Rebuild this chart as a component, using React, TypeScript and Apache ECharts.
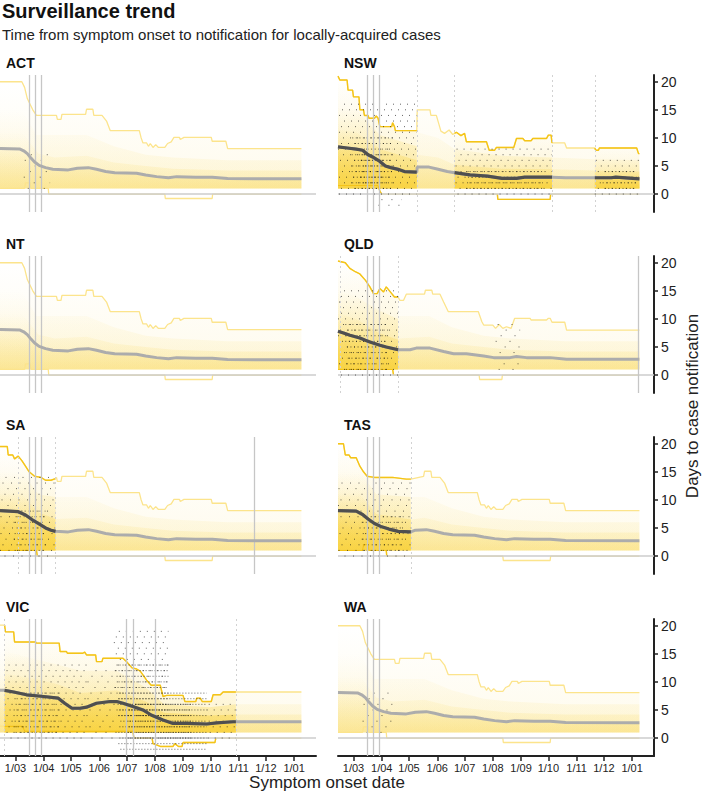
import React, { useEffect, useRef } from "react";
import * as echarts from "echarts";

type Pt = [number, number];
type Block = [number, number, number, number, number];

const FONT = '"Liberation Sans", Arial, Helvetica, sans-serif';
const X_MAX = 347; // days since 13 Feb 2020
const Y_MIN = -3.2;
const Y_MAX = 21.2;
const MONTH_DAYS = [17, 48, 78, 109, 139, 170, 201, 231, 262, 292, 323];
const MONTH_LABELS = ["1/03", "1/04", "1/05", "1/06", "1/07", "1/08", "1/09", "1/10", "1/11", "1/12", "1/01"];
const Y_TICKS = [0, 5, 10, 15, 20];
const INTERVENTIONS = [32, 39, 45];
const BAND_FLOOR = 1;

// ---- national baseline (ACT, NT, WA look alike) ----
const baseUpper: Pt[] = [[0, 20], [24, 20], [27, 19], [30, 17], [33, 16], [36, 15], [40, 14], [62, 14], [63, 13.3], [67, 13.3], [68, 14.2], [94, 14.2], [95, 15.1], [102, 15.1], [103, 14], [112, 14], [117, 13], [121, 11.3], [153, 11.3], [155, 10], [157, 9.1], [161, 9.1], [163, 8.5], [165, 9], [168, 8.3], [171, 8.8], [174, 8.3], [181, 8.3], [184, 9], [188, 9.3], [191, 10.1], [197, 10.1], [198, 9.7], [202, 10.1], [232, 10.1], [233, 9.4], [248, 9.4], [250, 8.1], [331, 8.1]];
const baseMedian: Pt[] = [[0, 8.1], [22, 8.0], [26, 7.7], [30, 7.2], [34, 6.4], [38, 5.7], [43, 5.1], [50, 4.7], [58, 4.4], [75, 4.3], [85, 4.6], [97, 4.7], [106, 4.4], [116, 4.0], [126, 3.8], [150, 3.7], [160, 3.4], [172, 3.1], [185, 2.9], [194, 3.1], [215, 3.0], [233, 3.0], [250, 2.75], [331, 2.7]];
const baseLower: Pt[] = [[0, 1], [27, 1], [28, 2], [33, 2], [34, 1], [53, 1], [53.5, 0], [181, 0], [181.5, -0.8], [233, -0.8], [233.5, 0], [331, 0]];
const baseQ75: Pt[] = [[0, 11], [24, 11], [42, 7.2], [60, 6.5], [95, 6.8], [125, 5.6], [160, 5], [190, 4.5], [250, 4.2], [331, 4.2]];
const baseQ90: Pt[] = [[0, 15], [24, 15], [40, 10.5], [95, 10.5], [125, 8.5], [160, 7], [190, 6.5], [250, 6], [331, 6]];

// ---- NSW ----
const nswUpper: Pt[] = [[0, 21], [2, 20.3], [10, 20.3], [11, 18.5], [16, 18.5], [17, 17.3], [23, 17.3], [24, 15], [28, 15], [29, 14], [33, 14], [34, 13.5], [40, 13.5], [42, 13.9], [44, 13.5], [46, 12], [59, 12], [60, 12.7], [62, 12], [63, 11.3], [86.5, 11.3], [87, 15], [101, 15], [102, 14], [108, 14], [113, 11.2], [117, 10.8], [122, 11.4], [126, 10.6], [128, 10.8], [130, 11], [135, 10.4], [139, 10.8], [141, 9.3], [163, 9.3], [166, 7.8], [172, 7.8], [174, 8.3], [193, 8.3], [196, 9.9], [203, 9.9], [205, 9.5], [212, 9.5], [214, 9.9], [229, 9.9], [231, 10.5], [234, 10.5], [235, 9.1], [249, 9.1], [251, 8.2], [282, 8.2], [283, 7.8], [286, 7.8], [287, 8.2], [328, 8.2], [330, 7.2], [331, 7.2]];
const nswMedian: Pt[] = [[0, 8.4], [10, 8.2], [20, 8.0], [27, 7.8], [33, 7.0], [38, 6.6], [46, 5.8], [52, 5.0], [58, 4.7], [66, 4.4], [73, 4.0], [86.5, 3.9], [87, 4.8], [100, 4.8], [110, 4.4], [120, 4.0], [128, 3.8], [145, 3.4], [164, 3.2], [180, 2.8], [196, 2.8], [205, 3.0], [235, 3.0], [250, 2.9], [282, 2.9], [300, 2.9], [305, 3.0], [331, 2.7]];
const nswLower: Pt[] = [[0, 1.5], [44, 1.5], [46, 0.5], [48, 0], [175, 0], [175.5, -0.95], [233, -0.95], [233.5, 0], [331, 0]];
const nswQ75: Pt[] = [[0, 11.5], [20, 11], [46, 8], [86.5, 6], [87, 7], [110, 6.5], [128, 5.2], [180, 4.5], [235, 4.4], [282, 4.2], [331, 4.0]];
const nswQ90: Pt[] = [[0, 15.5], [20, 15], [46, 10.5], [86.5, 8.5], [87, 11], [110, 10], [128, 8], [180, 6.8], [235, 6.5], [282, 6.2], [331, 6]];
const nswDots: Block[] = [[0, 86, 0, 16, 0.15], [15, 60, 1, 10, 0.35], [25, 50, 2, 7, 0.5], [40, 70, -2, -1, 0.1], [128, 235, 0, 8, 0.15], [140, 225, 1, 4, 0.35], [282, 331, 0, 6, 0.15], [290, 328, 1, 4, 0.35]];

// ---- QLD ----
const qldUpper: Pt[] = [[0, 20.3], [8, 20], [13, 19], [19, 18.4], [24, 18], [30, 16.9], [35, 15.7], [39, 14.5], [43, 14.5], [46, 15.4], [50, 14.8], [53, 15.7], [59, 14.5], [62, 13.9], [66, 13.9], [68, 13.3], [72, 13.3], [75, 14.4], [95, 14.4], [96, 15.1], [103, 15.1], [104, 14.4], [112, 14.4], [116, 13], [121, 11.3], [154, 11.3], [158, 9.5], [160, 8.9], [170, 8.9], [173, 8.3], [177, 9], [181, 8.3], [185, 8.6], [190, 8.3], [194, 10.1], [211, 10.1], [212, 9.8], [229, 9.8], [231, 10.1], [233, 10.1], [235, 9.4], [249, 9.4], [251, 8.0], [331, 8.0]];
const qldMedian: Pt[] = [[0, 7.8], [6, 7.5], [13, 7.1], [24, 6.6], [30, 6.2], [35, 5.9], [46, 5.3], [53, 5.0], [66, 4.5], [79, 4.5], [86, 4.8], [101, 4.8], [116, 4.2], [127, 3.8], [141, 3.8], [160, 3.4], [171, 3.1], [189, 3.1], [196, 3.3], [207, 3.1], [233, 3.1], [251, 2.8], [331, 2.8]];
const qldLower: Pt[] = [[0, 1], [60, 1], [61, 0], [155, 0], [155.5, -0.8], [180, -0.8], [180.5, 0], [331, 0]];
const qldQ75: Pt[] = [[0, 11], [20, 10], [45, 7.5], [66, 6.3], [67, 6.5], [100, 6.8], [125, 5.6], [160, 5], [190, 4.5], [250, 4.2], [331, 4.2]];
const qldQ90: Pt[] = [[0, 15], [20, 14], [45, 11.5], [66, 10], [67, 10.5], [100, 10.5], [125, 8.5], [160, 7], [190, 6.5], [250, 6], [331, 6]];
const qldDots: Block[] = [[0, 66, 0, 15, 0.15], [8, 55, 1, 9, 0.35], [170, 200, 1, 9, 0.07]];

// ---- SA ----
const saUpperHead: Pt[] = [[0, 19.5], [8, 19.5], [9, 18], [14, 18], [16, 17.3], [20, 17.8], [24, 17], [28, 16], [32, 15], [38, 14.2], [45, 14], [50, 13.5], [56, 13.5], [61, 13.8]];
const saMedianHead: Pt[] = [[0, 8.1], [20, 7.9], [28, 7.3], [35, 6.5], [42, 5.8], [50, 5.0], [56, 4.6], [61, 4.4]];
const saQ75Head: Pt[] = [[0, 11], [24, 11], [42, 7.8], [61, 6.6]];
const saQ90Head: Pt[] = [[0, 15], [24, 15], [42, 11], [61, 10.5]];
const saLower: Pt[] = [[0, 1], [40, 1], [41, 0], [181, 0], [181.5, -0.8], [233, -0.8], [233.5, 0], [331, 0]];
const saDots: Block[] = [[0, 61, 0, 14, 0.12], [15, 50, 1, 8, 0.3]];

// ---- TAS ----
const tasUpperHead: Pt[] = [[0, 20], [6, 20], [8, 18], [12, 18], [14, 17.5], [20, 17.5], [24, 16], [28, 15], [32, 14.2], [40, 14], [60, 14], [75, 13.7], [80, 13.7]];
const tasMedianHead: Pt[] = [[0, 8.1], [20, 8.0], [27, 7.4], [33, 6.6], [40, 5.8], [48, 5.2], [56, 4.8], [66, 4.4], [80, 4.3]];
const tasQ75Head: Pt[] = [[0, 11], [24, 11], [42, 7.5], [80, 6.5]];
const tasQ90Head: Pt[] = [[0, 15], [24, 15], [42, 11], [80, 10.5]];
const tasDots: Block[] = [[0, 80, 0, 13, 0.12], [25, 72, 1, 7, 0.3]];

// ---- VIC ----
const vicUpper: Pt[] = [[0, 20.1], [5, 20.1], [6, 18.9], [15, 18.9], [16, 17.1], [39, 17.1], [40, 16.9], [65, 16.9], [66, 15.4], [73, 15.4], [74, 15.1], [91, 15.1], [93, 15.3], [95, 14.8], [105, 14.8], [106, 13.6], [112, 13.6], [113, 14.2], [135, 14.2], [139, 13.6], [145, 12.5], [150, 12.3], [154, 11.9], [161, 10.3], [166, 9.4], [176, 9.4], [179, 7.4], [183, 7.6], [201, 7.6], [203, 6.5], [215, 6.5], [216, 7.1], [220, 7.1], [222, 6.5], [232, 6.5], [234, 7.7], [242, 7.7], [245, 8.2], [259, 8.2], [331, 8.2]];
const vicMedian: Pt[] = [[0, 8.5], [5, 8.5], [15, 8.2], [29, 7.7], [48, 7.4], [64, 7.1], [71, 6.2], [79, 5.3], [88, 5.3], [95, 5.5], [106, 6.2], [121, 6.5], [128, 6.5], [135, 6.2], [146, 5.6], [157, 5.0], [166, 4.1], [179, 3.2], [190, 2.6], [205, 2.6], [227, 2.5], [238, 2.7], [256, 2.9], [259, 2.9], [331, 2.9]];
const vicLower: Pt[] = [[0, 2.1], [5, 2.1], [25, 2.1], [27, 1.2], [146, 1.2], [147, 0], [167, 0], [168, -1], [176, -1.5], [190, -1.5], [192, -1], [196, -1.5], [200, -1.5], [201, -0.8], [236, -0.8], [237, 0], [331, 0]];
const vicQ75: Pt[] = [[0, 11.5], [5, 11.5], [40, 10.5], [65, 9.5], [88, 8], [128, 8.5], [160, 6.5], [180, 4.5], [230, 4], [259, 4.2], [331, 4.2]];
const vicQ90: Pt[] = [[0, 15.5], [5, 15.5], [40, 14], [65, 13], [88, 12], [128, 12], [160, 9], [180, 6], [230, 5.5], [259, 6], [331, 6]];
const vicDots: Block[] = [[5, 95, 0, 13, 0.15], [15, 65, 1, 8, 0.3], [95, 128, 0, 12, 0.1], [125, 185, 9, 19, 0.15], [128, 185, 4, 13, 0.45], [130, 227, -2, 8, 0.45], [140, 210, 0, 6, 0.6], [227, 259, 0, 6, 0.15]];

const actDots: Block[] = [[25, 55, 1, 7, 0.06]];
const waDots: Block[] = [[25, 60, 1, 8, 0.07]];

const after = (pts: Pt[], d: number) => pts.filter((p) => p[0] > d);

interface Panel {
  name: string;
  upper: Pt[];
  median: Pt[];
  lower: Pt[];
  q75: Pt[];
  q90: Pt[];
  windows: [number, number][];
  dashed: number[];
  extra: number[];
  dots: Block[];
}

const base = { upper: baseUpper, median: baseMedian, lower: baseLower, q75: baseQ75, q90: baseQ90 };

const PANELS: Panel[] = [
  { name: "ACT", ...base, windows: [], dashed: [], extra: [], dots: actDots },
  { name: "NSW", upper: nswUpper, median: nswMedian, lower: nswLower, q75: nswQ75, q90: nswQ90, windows: [[0, 86.5], [128, 235], [282, 331]], dashed: [87, 128, 235, 282], extra: [], dots: nswDots },
  { name: "NT", ...base, windows: [], dashed: [], extra: [], dots: [] },
  { name: "QLD", upper: qldUpper, median: qldMedian, lower: qldLower, q75: qldQ75, q90: qldQ90, windows: [[0, 66]], dashed: [3, 66], extra: [330], dots: qldDots },
  { name: "SA", upper: [...saUpperHead, ...after(baseUpper, 61)], median: [...saMedianHead, ...after(baseMedian, 61)], lower: saLower, q75: [...saQ75Head, ...after(baseQ75, 61)], q90: [...saQ90Head, ...after(baseQ90, 61)], windows: [[0, 61]], dashed: [20, 61], extra: [279], dots: saDots },
  { name: "TAS", upper: [...tasUpperHead, ...after(baseUpper, 80)], median: [...tasMedianHead, ...after(baseMedian, 80)], lower: baseLower, q75: [...tasQ75Head, ...after(baseQ75, 80)], q90: [...tasQ90Head, ...after(baseQ90, 80)], windows: [[0, 80]], dashed: [80], extra: [], dots: tasDots },
  { name: "VIC", upper: vicUpper, median: vicMedian, lower: vicLower, q75: vicQ75, q90: vicQ90, windows: [[5, 259]], dashed: [5, 259], extra: [139, 146, 171], dots: vicDots },
  { name: "WA", ...base, windows: [], dashed: [], extra: [], dots: waDots },
];

const COL_LEFT = [0, 338];
const ROW_TOP = [75, 256, 437, 619];
const PANEL_W = 316;
const PANEL_H = 137;

const BAND_RGB = "248,205,40";
// [alpha at the top of the layer's box, alpha at the floor]
const PALE_ALPHA: [number, number][] = [[0, 0.09], [0, 0.13], [0, 0.18], [0.05, 0.22]];
const WIN_ALPHA: [number, number][] = [[0, 0.16], [0, 0.24], [0.02, 0.32], [0.14, 0.4]];
const PALE_LINE = "#fce48c";
const STRONG_LINE = "#f4c418";
const MED_GREY = "#acacac";
const MED_DARK = "#4f4f4f";

const clip = (pts: Pt[], a: number, b: number) => pts.filter((p) => p[0] >= a && p[0] <= b);

const grad = ([a0, a1]: [number, number]) =>
  new echarts.graphic.LinearGradient(0, 0, 0, 1, [
    { offset: 0, color: `rgba(${BAND_RGB},${a0})` },
    { offset: 1, color: `rgba(${BAND_RGB},${a1})` },
  ]);

// deterministic scatter of dash phase so the dot rows don't line up diagonally
const phase = (row: number, idx: number, period: number) => (((row + 11) * 7919 + idx * 104729) % 97) / 97 * period;

function panelSeries(p: Panel, gi: number): any[] {
  const ax = { xAxisIndex: gi, yAxisIndex: gi, silent: true, symbol: "none" };
  const out: any[] = [];
  const layers: [Pt[], number][] = [[p.upper, 0], [p.q90, 1], [p.q75, 2], [p.median, 3]];
  layers.forEach(([pts, k]) =>
    out.push({ type: "line", ...ax, z: 1, data: pts, lineStyle: { width: 0, opacity: 0 }, areaStyle: { color: grad(PALE_ALPHA[k]), opacity: 1, origin: BAND_FLOOR } })
  );
  p.windows.forEach(([a, b]) =>
    layers.forEach(([pts, k]) =>
      out.push({ type: "line", ...ax, z: 1, data: clip(pts, a, b), lineStyle: { width: 0, opacity: 0 }, areaStyle: { color: grad(WIN_ALPHA[k]), opacity: 1, origin: BAND_FLOOR } })
    )
  );
  [p.upper, p.lower].forEach((pts) =>
    out.push({ type: "line", ...ax, z: 2, data: pts, lineStyle: { color: PALE_LINE, width: 1.3 } })
  );
  p.windows.forEach(([a, b]) =>
    [p.upper, p.lower].forEach((pts) =>
      out.push({ type: "line", ...ax, z: 2, data: clip(pts, a, b), lineStyle: { color: STRONG_LINE, width: 1.4 } })
    )
  );
  out.push({
    type: "line",
    ...ax,
    z: 3,
    data: [[0, 0], [X_MAX, 0]],
    lineStyle: { color: "#cccccc", width: 1.5 },
    markLine: {
      silent: true,
      symbol: ["none", "none"],
      label: { show: false },
      animation: false,
      data: [
        ...[...INTERVENTIONS, ...p.extra].map((d) => ({ xAxis: d, lineStyle: { color: "#c6c6c6", width: 1.3, type: "solid" } })),
        ...p.dashed.map((d) => ({ xAxis: d, lineStyle: { color: "#d2d2d2", width: 1, type: [2, 3] } })),
      ],
    },
  });
  out.push({
    type: "custom",
    xAxisIndex: gi,
    yAxisIndex: gi,
    silent: true,
    z: 4,
    clip: true,
    data: p.dots,
    encode: { x: [0, 1], y: [2, 3] },
    renderItem: (params: any, api: any) => {
      const s = api.value(0), e = api.value(1), lo = api.value(2), hi = api.value(3), a = api.value(4);
      const gap = Math.max(1, 0.9 / a);
      const children: any[] = [];
      for (let d = lo; d <= hi; d++) {
        const p1 = api.coord([s, d]);
        const p2 = api.coord([e, d]);
        children.push({
          type: "line",
          shape: { x1: p1[0], y1: p1[1], x2: p2[0], y2: p2[1] },
          style: { stroke: "#111", opacity: 0.65, lineWidth: 1, lineDash: [1, gap], lineDashOffset: phase(d, params.dataIndex + gi * 13, gap + 1) },
        });
      }
      return { type: "group", children };
    },
  });
  out.push({ type: "line", ...ax, z: 5, data: p.median, lineStyle: { color: MED_GREY, width: 3 } });
  p.windows.forEach(([a, b]) =>
    out.push({ type: "line", ...ax, z: 5, data: clip(p.median, a, b), lineStyle: { color: MED_DARK, width: 3.2 } })
  );
  return out;
}

export default function App() {
  const ref = useRef<HTMLDivElement>(null);
  useEffect(() => {
    if (!ref.current) return;
    const chart = echarts.init(ref.current, undefined, { renderer: "svg" });
    const grids = PANELS.map((_, i) => ({
      left: COL_LEFT[i % 2],
      top: ROW_TOP[Math.floor(i / 2)],
      width: PANEL_W,
      height: PANEL_H,
      containLabel: false,
      outerBoundsMode: "none",
    }));
    const xAxes = PANELS.map((_, i) => {
      const show = i >= 6;
      return {
        type: "value",
        gridIndex: i,
        min: 0,
        max: X_MAX,
        splitLine: { show: false },
        axisLine: { show, onZero: false, lineStyle: { color: "#222", width: 2 } },
        axisTick: { show, length: 5, lineStyle: { color: "#222", width: 1.5 }, customValues: MONTH_DAYS },
        axisLabel: {
          show,
          customValues: MONTH_DAYS,
          fontSize: 11,
          color: "#222",
          margin: 6,
          fontFamily: FONT,
          formatter: (v: number) => {
            const k = MONTH_DAYS.indexOf(Math.round(v));
            return k >= 0 ? MONTH_LABELS[k] : "";
          },
        },
      };
    });
    const yAxes = PANELS.map((_, i) => {
      const show = i % 2 === 1;
      return {
        type: "value",
        gridIndex: i,
        min: Y_MIN,
        max: Y_MAX,
        position: "right",
        splitLine: { show: false },
        axisLine: { show, onZero: false, lineStyle: { color: "#222", width: 2 } },
        axisTick: { show, length: 4, lineStyle: { color: "#222", width: 1.5 }, customValues: Y_TICKS },
        axisLabel: { show, customValues: Y_TICKS, fontSize: 14, color: "#222", margin: 7, fontFamily: FONT },
      };
    });
    const graphic: any[] = [
      { type: "text", x: 2, y: 10.5, style: { text: "Surveillance trend", font: `bold 20px ${FONT}`, fill: "#111", align: "left", verticalAlign: "middle" } },
      { type: "text", x: 2, y: 34.5, style: { text: "Time from symptom onset to notification for locally-acquired cases", font: `15px ${FONT}`, fill: "#222", align: "left", verticalAlign: "middle" } },
      { type: "text", x: 327, y: 782, style: { text: "Symptom onset date", font: `17px ${FONT}`, fill: "#222", align: "center", verticalAlign: "middle" } },
      { type: "text", x: 692, y: 406, rotation: Math.PI / 2, style: { text: "Days to case notification", font: `17px ${FONT}`, fill: "#222", align: "center", verticalAlign: "middle" } },
      ...PANELS.map((p, i) => ({
        type: "text",
        x: COL_LEFT[i % 2] + 6,
        y: ROW_TOP[Math.floor(i / 2)] - 12,
        style: { text: p.name, font: `bold 14px ${FONT}`, fill: "#111", align: "left", verticalAlign: "middle" },
      })),
    ];
    chart.setOption({
      animation: false,
      backgroundColor: "#ffffff",
      grid: grids,
      xAxis: xAxes,
      yAxis: yAxes,
      graphic,
      series: PANELS.flatMap((p, i) => panelSeries(p, i)),
    });
    return () => chart.dispose();
  }, []);
  return <div ref={ref} style={{ position: "absolute", left: 0, top: 0, width: 703, height: 794 }} />;
}
